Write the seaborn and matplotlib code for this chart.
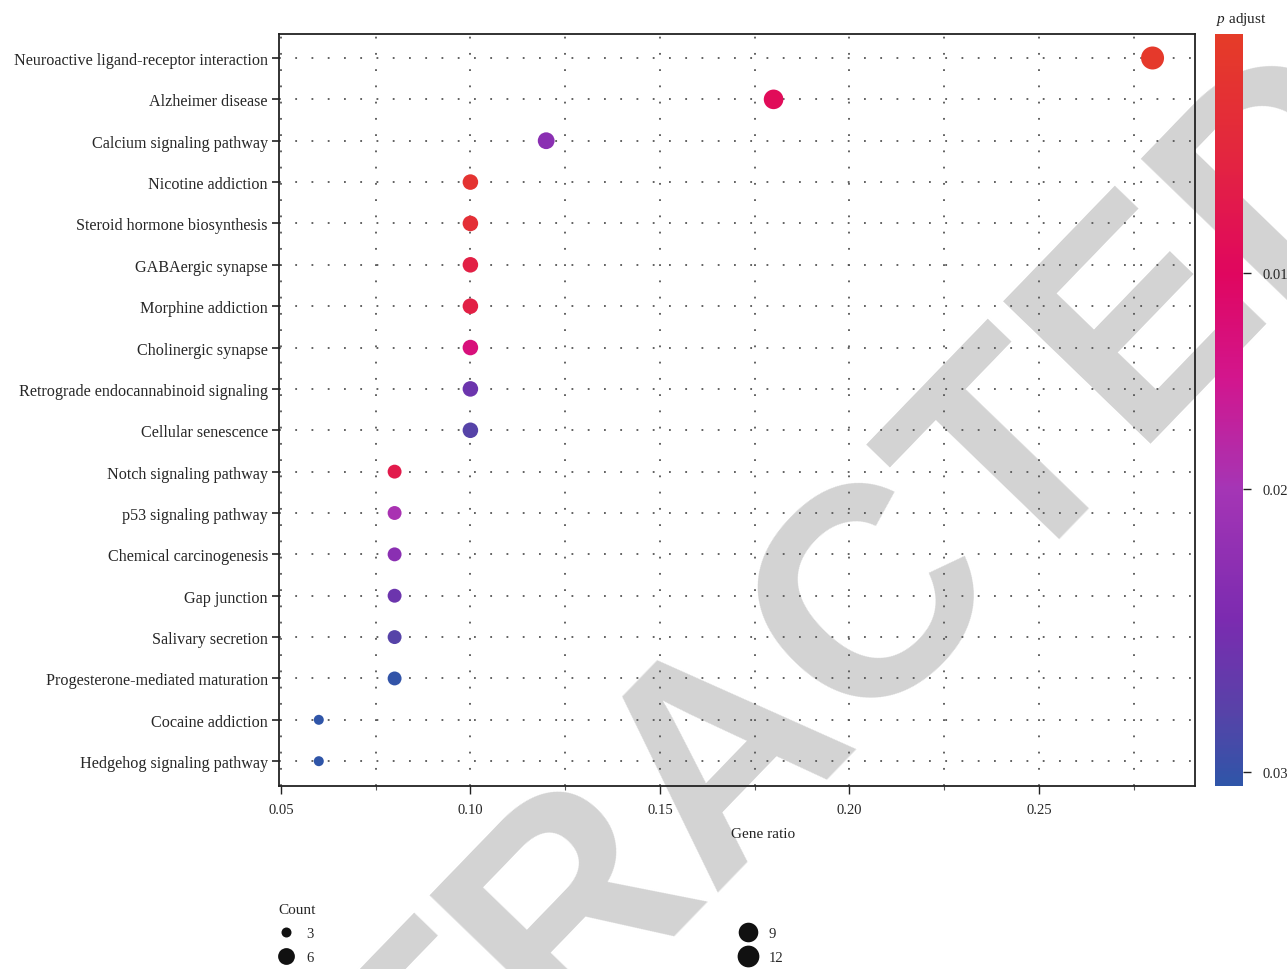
import numpy as np
import pandas as pd
import matplotlib
matplotlib.use("Agg")
import matplotlib.pyplot as plt
import seaborn as sns
from matplotlib.colors import LinearSegmentedColormap, FuncNorm
from matplotlib.lines import Line2D
from matplotlib.cm import ScalarMappable
from matplotlib.ticker import MultipleLocator

# ---------------- data ----------------
pathways = [
    "Neuroactive ligand-receptor interaction",
    "Alzheimer disease",
    "Calcium signaling pathway",
    "Nicotine addiction",
    "Steroid hormone biosynthesis",
    "GABAergic synapse",
    "Morphine addiction",
    "Cholinergic synapse",
    "Retrograde endocannabinoid signaling",
    "Cellular senescence",
    "Notch signaling pathway",
    "p53 signaling pathway",
    "Chemical carcinogenesis",
    "Gap junction",
    "Salivary secretion",
    "Progesterone-mediated maturation",
    "Cocaine addiction",
    "Hedgehog signaling pathway",
]
gene_ratio = [0.28, 0.18, 0.12, 0.10, 0.10, 0.10, 0.10, 0.10, 0.10, 0.10,
              0.08, 0.08, 0.08, 0.08, 0.08, 0.08, 0.06, 0.06]
counts = [14, 9, 6, 5, 5, 5, 5, 5, 5, 5, 4, 4, 4, 4, 4, 4, 3, 3]
p_adjust = [0.0008, 0.0092, 0.023, 0.002, 0.003, 0.006, 0.006, 0.013, 0.026,
            0.028, 0.007, 0.0195, 0.023, 0.026, 0.028, 0.0302, 0.0304, 0.0304]

x_ticks = [0.05, 0.10, 0.15, 0.20, 0.25]
cbar_ticks = [0.01, 0.02, 0.03]
legend_counts = [3, 6, 9, 12]

df = pd.DataFrame({"Description": pathways, "GeneRatio": gene_ratio,
                   "Count": counts, "p.adjust": p_adjust})

# ---------------- style ----------------
sns.set_theme(style="white")
plt.rcParams["font.family"] = ["Liberation Serif", "DejaVu Serif"]
plt.rcParams["mathtext.fontset"] = "custom"
plt.rcParams["mathtext.it"] = "Liberation Serif:italic"
plt.rcParams["mathtext.rm"] = "Liberation Serif"

W, H = 1287, 970
fig = plt.figure(figsize=(W / 100, H / 100), dpi=100)
fig.patch.set_facecolor("white")

ax = fig.add_axes([279 / W, 1 - 787 / H, (1195 - 279) / W, (787 - 35) / H])
ax.patch.set_alpha(0)
cax = fig.add_axes([1215 / W, 1 - 787 / H, 28 / W, (787 - 35) / H])

# colour scale: red (small p) -> pink -> purple -> blue (large p)
cmap = LinearSegmentedColormap.from_list("padj", [
    (0.00, "#E53C28"),
    (0.16, "#E3263F"),
    (0.318, "#E0065F"),
    (0.46, "#D2168E"),
    (0.605, "#A535B5"),
    (0.78, "#7B2BB0"),
    (0.90, "#5842A8"),
    (1.00, "#2F55A8"),
])
p_knots = [0.0, 0.01, 0.02, 0.03, 0.0305]
v_knots = [0.0, 0.318, 0.605, 0.981, 1.0]


def _fwd(p):
    return np.interp(np.asarray(p, dtype=float), p_knots, v_knots)


def _inv(v):
    return np.interp(np.asarray(v, dtype=float), v_knots, p_knots)


norm = FuncNorm((_fwd, _inv), vmin=0.0, vmax=0.0305)


def size_area(c):
    d_px = 10 + 13 * np.sqrt(max(c - 3, 0) / 11)
    return (d_px * 0.72) ** 2


size_map = {c: size_area(c) for c in sorted(set(counts))}

sns.scatterplot(data=df, x="GeneRatio", y="Description", hue="p.adjust",
                palette=cmap, hue_norm=norm, size="Count", sizes=size_map,
                edgecolor="none", linewidth=0, legend=False, ax=ax, zorder=3)

n = len(pathways)
ax.set_ylim(n - 1 + 0.60, -0.58)
ax.set_xlim(0.0495, 0.2912)
ax.xaxis.set_major_locator(MultipleLocator(0.05))
ax.xaxis.set_minor_locator(MultipleLocator(0.025))
ax.set_xticks(x_ticks)
ax.set_xticklabels([f"{t:.2f}" for t in x_ticks])

grid_kw = dict(color="#555555", linestyle=(0, (1, 8)), linewidth=1.3)
ax.grid(True, which="major", axis="both", **grid_kw)
ax.grid(True, which="minor", axis="x", **grid_kw)
ax.set_axisbelow(True)

for s in ax.spines.values():
    s.set_visible(True)
    s.set_color("#222222")
    s.set_linewidth(1.3)

ax.tick_params(axis="x", which="major", direction="out", length=6, width=1,
               color="#222222", labelsize=10.5, pad=6, bottom=True)
ax.tick_params(axis="x", which="minor", direction="out", length=3, width=0.8,
               color="#555555", bottom=True)
ax.tick_params(axis="y", which="major", direction="out", length=5, width=1.2,
               color="#222222", labelsize=11.6, pad=3, left=True)
ax.set_xlabel("")
ax.set_ylabel("")
fig.text(763 / W, 1 - 834 / H, "Gene ratio", ha="center", va="center",
         fontsize=11, color="#222222")

# colorbar
cb = fig.colorbar(ScalarMappable(norm=norm, cmap=cmap), cax=cax)
cb.set_ticks(cbar_ticks)
cb.set_ticklabels([f"{t:.2f}" for t in cbar_ticks])
cax.invert_yaxis()
cb.outline.set_visible(False)
cax.tick_params(direction="out", length=6, width=1, color="#222222",
                labelsize=10.5, pad=8)
fig.text(1241 / W, 1 - 19 / H, r"$\mathit{p}$ adjust", ha="center",
         va="center", fontsize=11, color="#222222")

# size legend
handles = [Line2D([], [], linestyle="none", marker="o", color="#111111",
                  markeredgewidth=0,
                  markersize=np.sqrt(size_area(c))) for c in legend_counts]
leg = fig.legend(handles, [str(c) for c in legend_counts], title="Count",
                 loc="upper left", bbox_to_anchor=(268 / W, 1 - 894 / H),
                 ncol=2, frameon=False, fontsize=10.5, title_fontsize=11,
                 columnspacing=29.3, handletextpad=0.9, labelspacing=0.75,
                 handlelength=1.0, borderpad=0.2)
leg._legend_box.align = "left"

# watermark
fig.text(782 / W, 1 - 806 / H, "RETRACTED", rotation=46, ha="center",
         va="baseline", rotation_mode="anchor", fontsize=214,
         fontweight="bold", color="#d3d3d3", family="Liberation Sans",
         zorder=-1)

fig.savefig("out.png", dpi=100)
